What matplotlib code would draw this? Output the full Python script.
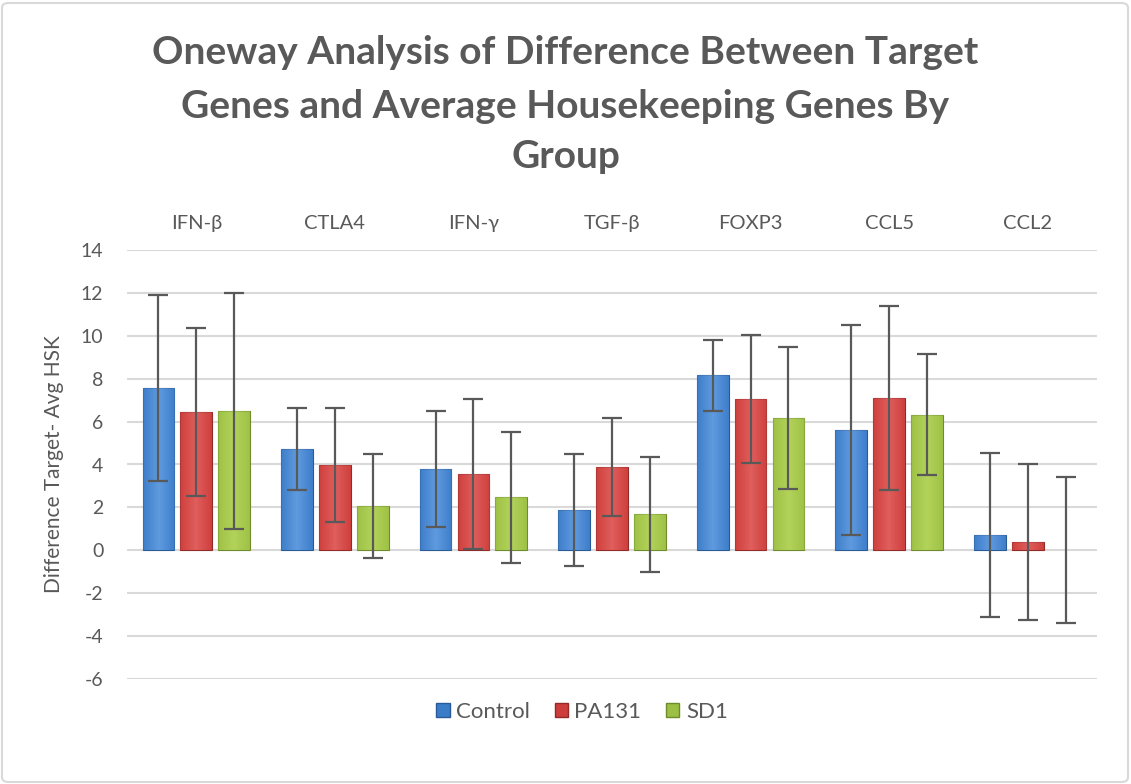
import matplotlib
matplotlib.use("Agg")
import matplotlib.pyplot as plt
import numpy as np
from matplotlib.patches import FancyBboxPatch, Patch
from matplotlib.colors import LinearSegmentedColormap

plt.rcParams['font.family'] = ['Lato', 'DejaVu Sans']

categories = ["IFN-β", "CTLA4", "IFN-γ", "TGF-β", "FOXP3", "CCL5", "CCL2"]
series = ["Control", "PA131", "SD1"]
control = [7.55, 4.72, 3.80, 1.88, 8.15, 5.62, 0.71]
pa131 = [6.45, 3.97, 3.55, 3.88, 7.05, 7.10, 0.39]
sd1 = [6.50, 2.05, 2.48, 1.67, 6.17, 6.33, 0.0]
control_err = [4.33, 1.90, 2.70, 2.62, 1.66, 4.90, 3.82]
pa131_err = [3.90, 2.66, 3.50, 2.28, 3.00, 4.30, 3.65]
sd1_err = [5.50, 2.42, 3.05, 2.70, 3.30, 2.80, 3.41]
yticks = [-6, -4, -2, 0, 2, 4, 6, 8, 10, 12, 14]

colors = ["#3B7CC9", "#CD3D3B", "#9CC044"]
light = ["#7DB4F0", "#F07A78", "#C6E36E"]
dark = ["#2A5A96", "#922A28", "#6E8C2C"]
text_gray = "#595959"

W, H = 1131, 784
fig = plt.figure(figsize=(W / 100, H / 100), dpi=100)
ax = fig.add_axes([127 / W, 1 - 679 / H, (1097 - 127) / W, (679 - 250) / H])

x = np.arange(len(categories))
step = 0.273
width = 0.229
vals = [control, pa131, sd1]
errs = [control_err, pa131_err, sd1_err]

for j in range(3):
    pos = x + (j - 1) * step
    bars = ax.bar(pos, vals[j], width=width, color=colors[j], edgecolor=dark[j],
                  linewidth=0.8, zorder=3)
    cmap = LinearSegmentedColormap.from_list("g", [dark[j], colors[j], light[j], colors[j], dark[j]])
    grad = np.linspace(0, 1, 64).reshape(1, -1)
    for b in bars:
        bx, by = b.get_x(), b.get_y()
        bw, bh = b.get_width(), b.get_height()
        if bh == 0:
            b.set_visible(False)
            continue
        im = ax.imshow(grad, cmap=cmap, extent=(bx, bx + bw, by, by + bh),
                       aspect='auto', zorder=3.1, alpha=0.55, vmin=-0.6, vmax=1.6)
        im.set_clip_path(b)
    ax.errorbar(pos, vals[j], yerr=errs[j], fmt='none', ecolor="#595959",
                elinewidth=1.6, capsize=7, capthick=1.6, zorder=4)

ax.set_xlim(-0.5, len(categories) - 0.5)
ax.set_ylim(-6, 14)
ax.set_yticks(yticks)
ax.set_yticklabels([str(v) for v in yticks])
ax.yaxis.grid(True, color="#D9D9D9", linewidth=1.5, zorder=0)
ax.set_axisbelow(True)
for s in ax.spines.values():
    s.set_visible(False)
ax.xaxis.tick_top()
ax.set_xticks(x)
ax.set_xticklabels(categories)
ax.tick_params(axis='x', length=0, pad=13, labelsize=14.5, labelcolor=text_gray)
ax.tick_params(axis='y', length=0, pad=17, labelsize=14, labelcolor=text_gray)
ax.set_ylabel("Difference Target- Avg HSK", fontsize=15, color=text_gray, labelpad=12)

title_kw = dict(ha='center', va='center', fontsize=28, fontweight='bold', color=text_gray)
fig.text(0.5, 1 - 53 / H, "Oneway Analysis of Difference Between Target", **title_kw)
fig.text(0.5, 1 - 106 / H, "Genes and Average Housekeeping Genes By", **title_kw)
fig.text(0.5, 1 - 157 / H, "Group", **title_kw)

handles = [Patch(facecolor=colors[j], edgecolor=dark[j], label=series[j]) for j in range(3)]
fig.legend(handles=handles, loc='center', bbox_to_anchor=(582 / W, 1 - 712 / H), ncol=3,
           frameon=False, fontsize=16, labelcolor=text_gray, handlelength=0.6, handleheight=0.6,
           handletextpad=0.3, columnspacing=1.1)

border = FancyBboxPatch((2 / W, 2 / H), (W - 5) / W, (H - 5) / H,
                        boxstyle="round,pad=0,rounding_size=0.006", transform=fig.transFigure,
                        facecolor='none', edgecolor="#D9D9D9", linewidth=1.5)
fig.patches.append(border)

fig.savefig("out.png", dpi=100, facecolor='white')
